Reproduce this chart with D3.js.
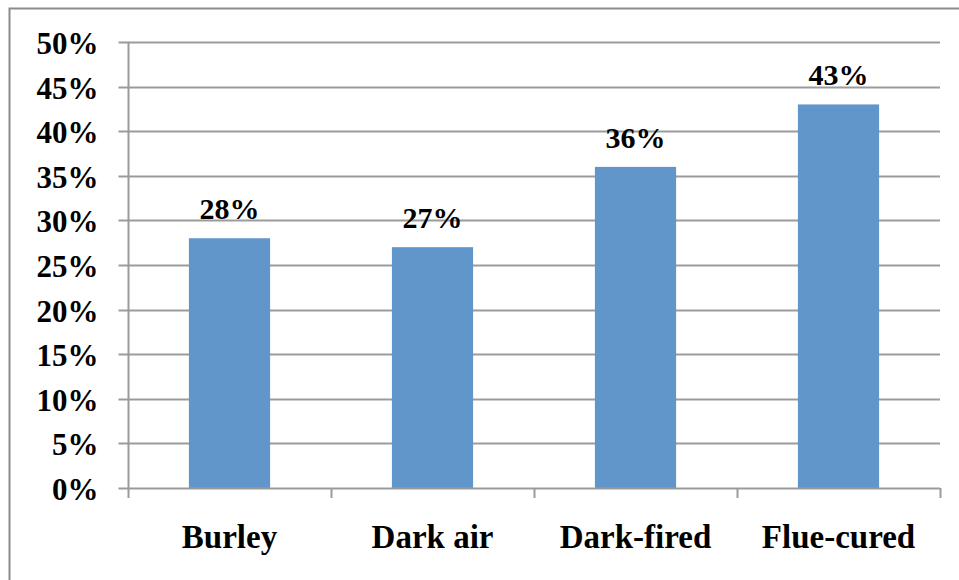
<!DOCTYPE html>
<html>
<head>
<meta charset="utf-8">
<script src="https://cdn.jsdelivr.net/npm/d3@7"></script>
<style>
  html, body { margin: 0; padding: 0; background: #fff; }
  svg { display: block; }
  text { font-family: "Liberation Serif", "Times New Roman", serif; font-weight: bold; fill: #000; }
</style>
</head>
<body>
<svg id="chart" width="959" height="580"></svg>
<script>
// Share of each tobacco type (percent)
const categories = ["Burley", "Dark air", "Dark-fired", "Flue-cured"];
const values = [28, 27, 36, 43];
const yTicks = [0, 5, 10, 15, 20, 25, 30, 35, 40, 45, 50];

const svg = d3.select("#chart");
const W = 959, H = 580;
const plot = { left: 128, right: 940, top: 42, bottom: 488 };

// outer frame of the chart area
svg.append("rect")
  .attr("x", 9.5).attr("y", 8.5)
  .attr("width", W + 20).attr("height", H + 20)
  .attr("fill", "none").attr("stroke", "#8c8c8c").attr("stroke-width", 2);

const x = d3.scaleBand().domain(categories).range([plot.left, plot.right]).paddingInner(0.6).paddingOuter(0.3);
const xb = d3.scaleBand().domain(categories).range([plot.left, plot.right]);
const y = d3.scaleLinear().domain([0, 50]).range([plot.bottom, plot.top]);

// horizontal gridlines
svg.append("g").selectAll("line").data(yTicks.filter(d => d > 0)).join("line")
  .attr("x1", plot.left).attr("x2", plot.right)
  .attr("y1", d => Math.round(y(d)) + 0.5).attr("y2", d => Math.round(y(d)) + 0.5)
  .attr("stroke", "#9b9b9b").attr("stroke-width", 2);

// y axis
const yAxis = svg.append("g").attr("transform", `translate(${plot.left + 0.5},0)`)
  .call(d3.axisLeft(y).tickValues(yTicks).tickSize(10).tickPadding(20).tickFormat(d => d + "%"));
yAxis.select(".domain").attr("stroke", "#9b9b9b").attr("stroke-width", 2)
  .attr("d", `M0,${plot.top}V${plot.bottom}`);
yAxis.selectAll(".tick line").attr("stroke", "#9b9b9b").attr("stroke-width", 2);
yAxis.selectAll(".tick text")
  .attr("font-family", "Liberation Serif, serif").attr("font-weight", "bold")
  .attr("font-size", 31).attr("fill", "#000").attr("dy", "0.36em");
yAxis.selectAll(".tick").attr("transform", d => `translate(0,${Math.round(y(d)) + 0.5})`);

// bars
svg.append("g").selectAll("rect").data(values).join("rect")
  .attr("x", (d, i) => x(categories[i]))
  .attr("width", x.bandwidth())
  .attr("y", d => y(d))
  .attr("height", d => y(0) - y(d))
  .attr("fill", "#6196ca");

// x axis baseline with category boundary ticks
const xg = svg.append("g");
xg.append("line")
  .attr("x1", plot.left).attr("x2", plot.right)
  .attr("y1", plot.bottom + 0.5).attr("y2", plot.bottom + 0.5)
  .attr("stroke", "#9b9b9b").attr("stroke-width", 2);
const bounds = categories.map(c => xb(c)).concat([plot.right]);
xg.selectAll("line.tk").data(bounds).join("line").attr("class", "tk")
  .attr("x1", d => Math.round(d) + 0.5).attr("x2", d => Math.round(d) + 0.5)
  .attr("y1", plot.bottom).attr("y2", plot.bottom + 10)
  .attr("stroke", "#9b9b9b").attr("stroke-width", 2);

// category labels
svg.append("g").selectAll("text").data(categories).join("text")
  .attr("x", d => xb(d) + xb.bandwidth() / 2)
  .attr("y", 548)
  .attr("text-anchor", "middle")
  .attr("font-size", 33)
  .text(d => d);

// value labels above bars
svg.append("g").selectAll("text").data(values).join("text")
  .attr("x", (d, i) => x(categories[i]) + x.bandwidth() / 2)
  .attr("y", d => y(d) - 19)
  .attr("text-anchor", "middle")
  .attr("font-size", 30)
  .text(d => d + "%");
</script>
</body>
</html>
